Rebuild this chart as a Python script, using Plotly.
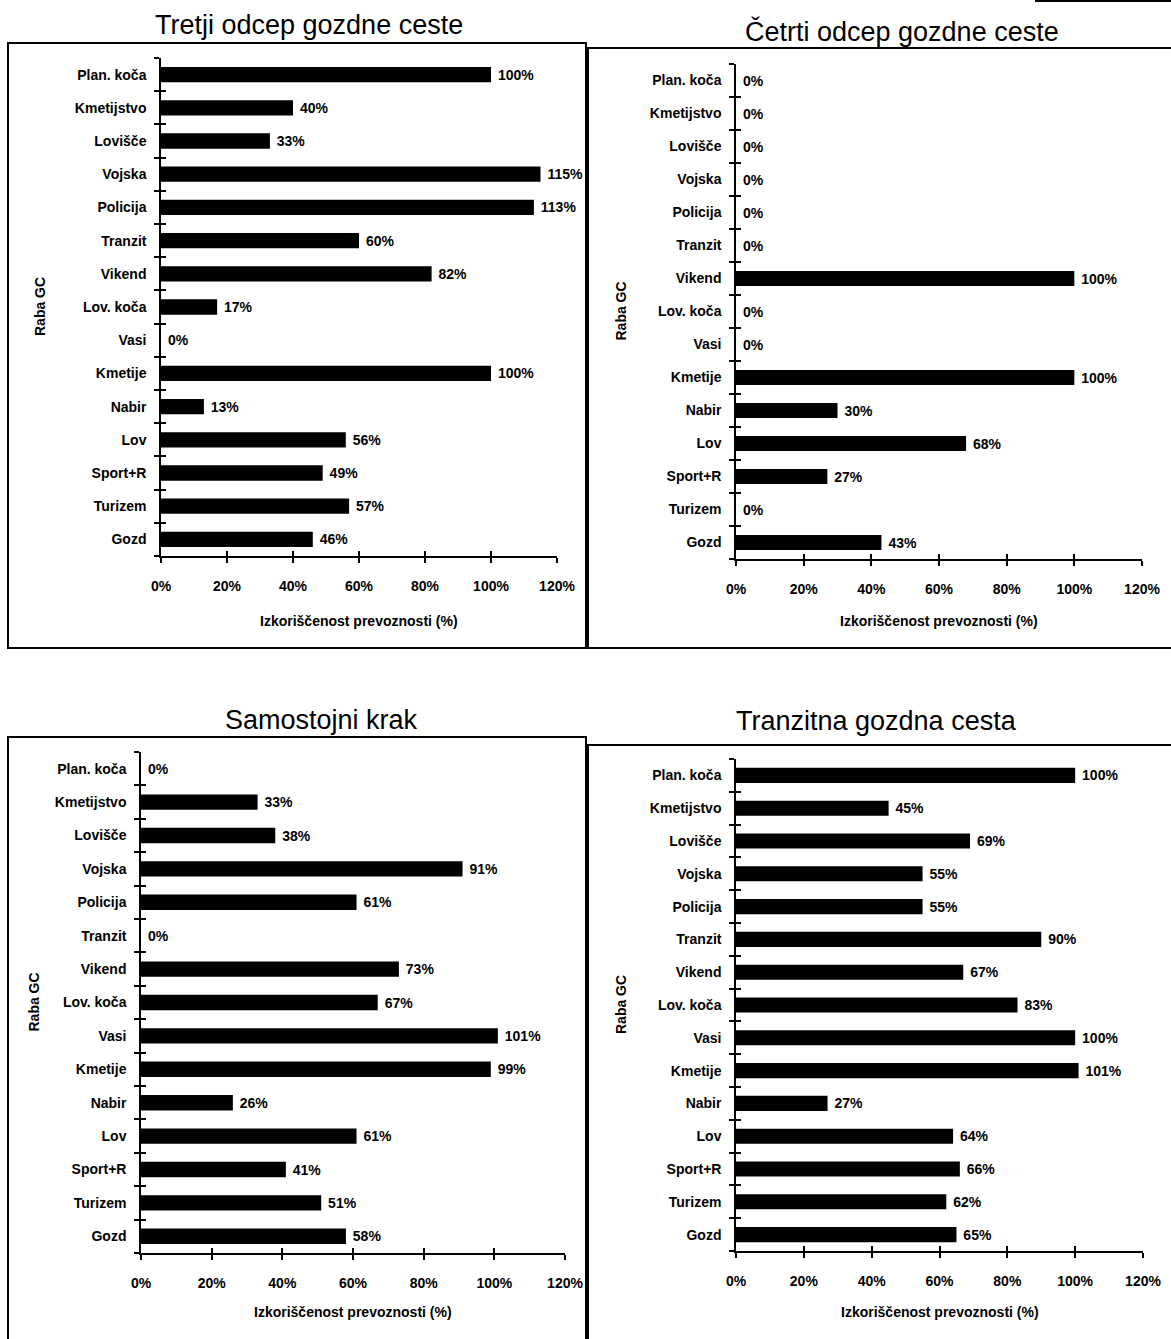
import plotly.graph_objects as go

# Usage categories (top to bottom)
categories = ["Plan. koča", "Kmetijstvo", "Lovišče", "Vojska", "Policija", "Tranzit",
              "Vikend", "Lov. koča", "Vasi", "Kmetije", "Nabir", "Lov", "Sport+R",
              "Turizem", "Gozd"]

# Capacity utilisation (%) per road type
tretji_odcep = [100, 40, 33, 115, 113, 60, 82, 17, 0, 100, 13, 56, 49, 57, 46]
cetrti_odcep = [0, 0, 0, 0, 0, 0, 100, 0, 0, 100, 30, 68, 27, 0, 43]
samostojni_krak = [0, 33, 38, 91, 61, 0, 73, 67, 101, 99, 26, 61, 41, 51, 58]
tranzitna_cesta = [100, 45, 69, 55, 55, 90, 67, 83, 100, 101, 27, 64, 66, 62, 65]

panel_titles = ["Tretji odcep gozdne ceste", "Četrti odcep gozdne ceste",
                "Samostojni krak", "Tranzitna gozdna cesta"]

x_tick_values = [0, 20, 40, 60, 80, 100, 120]
x_tick_labels = ["0%", "20%", "40%", "60%", "80%", "100%", "120%"]
x_axis_title = "Izkoriščenost prevoznosti (%)"
y_axis_title = "Raba GC"

W, H = 1171, 1339
FONT = "Liberation Sans, Arial, Helvetica, sans-serif"

# Pixel geometry of each panel: plot area, title centre, frame, y-title x
geometry = [
    dict(plot=(161, 557, 58, 556), title=(309, 25), frame=(8, 43, 586, 648), ytitle_x=40, xtitle_y=621),
    dict(plot=(736, 1142, 64, 559), title=(902, 32), frame=(588, 48, 1180, 648), ytitle_x=620, xtitle_y=621),
    dict(plot=(141, 565, 752, 1253), title=(321, 720), frame=(8, 737, 586, 1350), ytitle_x=33, xtitle_y=1312),
    dict(plot=(736, 1143, 759, 1251), title=(876, 721), frame=(588, 745, 1180, 1350), ytitle_x=621, xtitle_y=1312),
]
series = [tretji_odcep, cetrti_odcep, samostojni_krak, tranzitna_cesta]


def px(x):
    return x / W


def py(y):
    return 1 - y / H


n = len(categories)
positions = list(range(n))
boundaries = [i - 0.5 for i in range(n + 1)]

fig = go.Figure()
layout = dict(
    width=W, height=H, margin=dict(l=0, r=0, t=0, b=0, pad=0, autoexpand=False),
    paper_bgcolor="white", plot_bgcolor="rgba(0,0,0,0)", showlegend=False,
    annotations=[], shapes=[],
)

for k, (vals, g, title) in enumerate(zip(series, geometry, panel_titles)):
    a, b = 2 * k + 1, 2 * k + 2
    xa, ya = f"x{a}", f"y{a}"
    xb, yb = f"x{b}", f"y{b}"
    x0, x1, y0, y1 = g["plot"]
    xdom = [px(x0), px(x1)]
    ydom = [py(y1), py(y0)]

    fig.add_trace(go.Bar(
        x=vals, y=positions, orientation="h", xaxis=xa, yaxis=ya,
        marker=dict(color="black", line=dict(width=0)), width=0.46,
        text=[f"\u00a0{v}%" for v in vals], textposition="outside",
        textfont=dict(family=FONT, size=14, color="black", weight="bold"),
        constraintext="none", cliponaxis=False, hoverinfo="skip",
    ))
    # empty trace carrying the overlay axes (tick marks on the inner side)
    fig.add_trace(go.Scatter(x=[None], y=[None], xaxis=xb, yaxis=yb,
                             mode="markers", hoverinfo="skip"))

    tick_font = dict(family=FONT, size=14, color="black", weight="bold")
    layout[f"xaxis{a}"] = dict(
        domain=xdom, range=[0, 120], anchor=ya, tickmode="array",
        tickvals=x_tick_values, ticktext=x_tick_labels, ticks="outside",
        ticklen=5, tickwidth=1.5, tickcolor="black", showline=True,
        linecolor="black", linewidth=1.5, showgrid=False, zeroline=False,
        tickfont=tick_font, ticklabelstandoff=11, fixedrange=True,
        automargin=False,
    )
    layout[f"yaxis{a}"] = dict(
        domain=ydom, range=[n - 0.5, -0.5], anchor=xa, tickmode="array",
        tickvals=positions, ticktext=categories, ticks="", showline=True,
        linecolor="black", linewidth=1.5, showgrid=False, zeroline=False,
        tickfont=tick_font, ticklabelstandoff=10, fixedrange=True,
        automargin=False,
        minor=dict(tickmode="array", tickvals=boundaries, ticks="outside",
                   ticklen=5, tickwidth=1.5, tickcolor="black", showgrid=False),
    )
    layout[f"xaxis{b}"] = dict(
        domain=xdom, range=[0, 120], anchor=yb, overlaying=xa, tickmode="array",
        tickvals=x_tick_values, ticks="inside", ticklen=5, tickwidth=1.5,
        tickcolor="black", showticklabels=False, showline=False,
        showgrid=False, zeroline=False, fixedrange=True, automargin=False,
    )
    layout[f"yaxis{b}"] = dict(
        domain=ydom, range=[n - 0.5, -0.5], anchor=xb, overlaying=ya,
        tickmode="array", tickvals=boundaries, ticks="inside", ticklen=5,
        tickwidth=1.5, tickcolor="black", showticklabels=False,
        showline=False, showgrid=False, zeroline=False, fixedrange=True,
        automargin=False,
    )

    # panel title
    tx, ty = g["title"]
    layout["annotations"].append(dict(
        text=title, x=px(tx), y=py(ty), xref="paper", yref="paper",
        xanchor="center", yanchor="middle", showarrow=False,
        font=dict(family=FONT, size=27, color="black"),
    ))
    # axis titles
    layout["annotations"].append(dict(
        text=x_axis_title, x=px((x0 + x1) / 2), y=py(g["xtitle_y"]),
        xref="paper", yref="paper", xanchor="center", yanchor="middle",
        showarrow=False, font=dict(family=FONT, size=14, color="black", weight="bold"),
    ))
    layout["annotations"].append(dict(
        text=y_axis_title, x=px(g["ytitle_x"]), y=py((y0 + y1) / 2),
        xref="paper", yref="paper", xanchor="center", yanchor="middle",
        textangle=-90, showarrow=False,
        font=dict(family=FONT, size=14, color="black", weight="bold"),
    ))
    # panel frame
    fx0, fy0, fx1, fy1 = g["frame"]
    layout["shapes"].append(dict(
        type="rect", xref="paper", yref="paper",
        x0=px(fx0), x1=px(fx1), y0=py(fy1), y1=py(fy0),
        line=dict(color="black", width=2), fillcolor="rgba(0,0,0,0)",
    ))

# edge of the neighbouring frame at the top of the page
layout["shapes"].append(dict(
    type="line", xref="paper", yref="paper",
    x0=px(1035), x1=px(1175), y0=py(1), y1=py(1),
    line=dict(color="black", width=2),
))

fig.update_layout(**layout)
fig.write_html("out.html")
